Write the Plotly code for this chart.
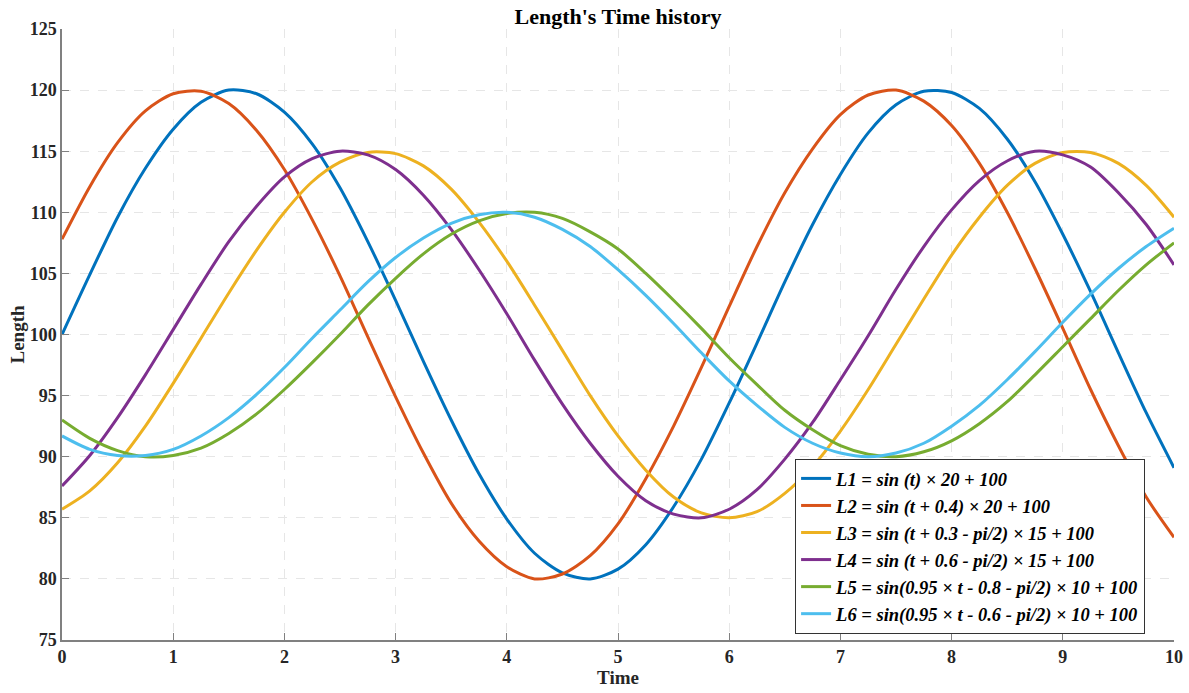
import plotly.graph_objects as go

t = [i * 0.25 for i in range(41)]

L1 = [100, 104.9, 109.6, 113.6, 116.8, 119.0, 120.0, 119.7, 118.2, 115.6, 112.0, 107.6, 102.8, 97.8, 93.0, 88.6, 84.9, 82.1, 80.5, 80.0, 80.8, 82.8, 85.9, 89.8, 94.4, 99.3, 104.3, 109.0, 113.1, 116.5, 118.8, 119.9, 119.8, 118.5, 116.0, 112.5, 108.2, 103.5, 98.5, 93.6, 89.1]
L2 = [107.8, 112.1, 115.7, 118.3, 119.7, 119.9, 118.9, 116.7, 113.5, 109.4, 104.8, 99.8, 94.9, 90.3, 86.2, 83.1, 81.0, 80.0, 80.4, 81.9, 84.5, 88.2, 92.5, 97.3, 102.3, 107.2, 111.6, 115.2, 118.0, 119.6, 120.0, 119.1, 117.1, 114.0, 110.0, 105.4, 100.5, 95.5, 90.9, 86.7, 83.4]
L3 = [85.7, 87.2, 89.5, 92.5, 96.0, 99.7, 103.4, 106.9, 110.0, 112.5, 114.1, 114.9, 114.8, 113.8, 111.9, 109.2, 106.0, 102.4, 98.7, 95.0, 91.7, 88.9, 86.7, 85.4, 85.0, 85.5, 87.0, 89.2, 92.1, 95.5, 99.2, 102.9, 106.5, 109.6, 112.2, 114.0, 114.9, 114.9, 114.0, 112.2, 109.6]
L4 = [87.6, 90.1, 93.2, 96.7, 100.4, 104.1, 107.6, 110.5, 112.9, 114.4, 115.0, 114.7, 113.5, 111.4, 108.6, 105.3, 101.7, 97.9, 94.3, 91.1, 88.4, 86.4, 85.3, 85.0, 85.7, 87.3, 89.8, 92.8, 96.3, 99.9, 103.7, 107.2, 110.2, 112.6, 114.2, 115.0, 114.7, 113.7, 111.6, 109.0, 105.7]
L5 = [93.0, 91.5, 90.5, 90.0, 90.1, 90.7, 91.9, 93.5, 95.5, 97.7, 100.0, 102.4, 104.6, 106.6, 108.2, 109.3, 109.9, 110.0, 109.5, 108.4, 107.0, 105.0, 102.8, 100.5, 98.1, 95.9, 93.8, 92.2, 90.9, 90.2, 90.0, 90.4, 91.3, 92.7, 94.5, 96.7, 99.0, 101.3, 103.6, 105.7, 107.5]
L6 = [91.7, 90.6, 90.1, 90.1, 90.6, 91.7, 93.2, 95.1, 97.3, 99.7, 102.0, 104.3, 106.3, 107.9, 109.1, 109.8, 110.0, 109.6, 108.6, 107.2, 105.3, 103.2, 100.9, 98.5, 96.2, 94.2, 92.4, 91.1, 90.3, 90.0, 90.3, 91.1, 92.5, 94.2, 96.3, 98.6, 101.0, 103.3, 105.4, 107.2, 108.7]

names = [
    "L1 = sin (t) × 20 + 100",
    "L2 = sin (t + 0.4) × 20 + 100",
    "L3 = sin (t + 0.3 - pi/2) × 15 + 100",
    "L4 = sin (t + 0.6 - pi/2) × 15 + 100",
    "L5 = sin(0.95 × t - 0.8 - pi/2) × 10 + 100",
    "L6 = sin(0.95 × t - 0.6 - pi/2) × 10 + 100",
]
series = [L1, L2, L3, L4, L5, L6]
colors = ["#0072BD", "#D95319", "#EDB120", "#7E2F8E", "#77AC30", "#4DBEEE"]

x_ticks = list(range(0, 11))
y_ticks = list(range(75, 126, 5))

fig = go.Figure()
for name, ys, c in zip(names, series, colors):
    fig.add_trace(go.Scatter(x=t, y=ys, mode="lines", name=name,
                             line=dict(color=c, width=3, shape="spline", smoothing=0.8)))

serif = "Liberation Serif, Times New Roman, serif"
axis_common = dict(
    showgrid=True, gridcolor="#e6e6e6", griddash="dash", gridwidth=1,
    showline=True, linecolor="#808080", linewidth=1.5,
    ticks="inside", ticklen=7, tickcolor="#808080", tickwidth=1,
    zeroline=False, automargin=False,
    tickfont=dict(family=serif, size=18, color="#262626", weight="bold"),
)

W, H = 1189, 693
fig.update_layout(
    width=W, height=H,
    margin=dict(l=62, r=15, t=29, b=53),
    paper_bgcolor="white", plot_bgcolor="white",
    title=dict(text="Length's Time history", x=618 / W, xanchor="center",
               y=1 - 16 / H, yanchor="middle", yref="container",
               font=dict(family=serif, size=22, color="black", weight="bold")),
    xaxis=dict(range=[0, 10], tickvals=x_ticks,
               title=dict(text="Time", standoff=0,
                          font=dict(family=serif, size=19, color="#262626", weight="bold")),
               **axis_common),
    yaxis=dict(range=[75, 125], tickvals=y_ticks,
               title=dict(text="Length", standoff=0,
                          font=dict(family=serif, size=19, color="#262626", weight="bold")),
               **axis_common),
    legend=dict(x=0.974, y=0.01, xanchor="right", yanchor="bottom",
                bgcolor="white", bordercolor="#333333", borderwidth=1,
                font=dict(family=serif, size=18.5, color="#000000", weight="bold", style="italic"),
                tracegroupgap=0, itemwidth=30),
    showlegend=True,
)

fig.write_html(
    "out.html",
    config={"displayModeBar": False},
    post_script="document.body.style.margin='0px';document.body.style.overflow='hidden';",
)
